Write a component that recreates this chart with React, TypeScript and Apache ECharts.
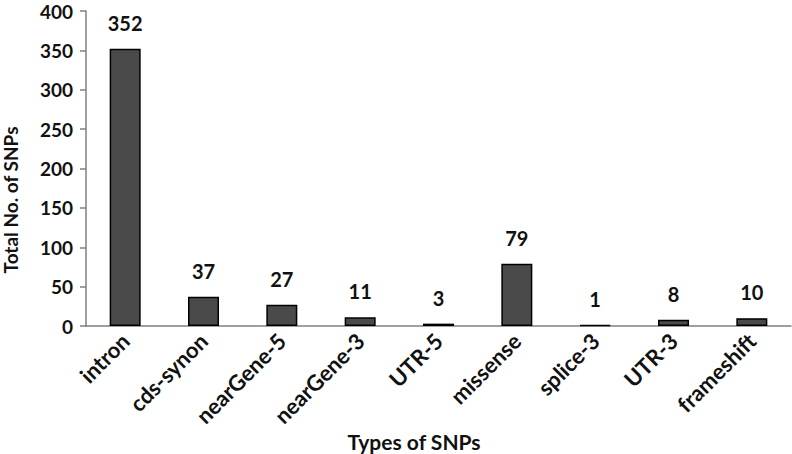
import React, { useEffect, useRef } from "react";
import * as echarts from "echarts";

const categories = ["intron", "cds-synon", "nearGene-5", "nearGene-3", "UTR-5", "missense", "splice-3", "UTR-3", "frameshift"];
const snpCounts = [352, 37, 27, 11, 3, 79, 1, 8, 10];
const yTicks = { min: 0, max: 400, interval: 50 };
const yTitle = "Total No. of SNPs";
const xTitle = "Types of SNPs";

const FONT = "Lato, 'Open Sans', sans-serif";

export default function App() {
  const ref = useRef<HTMLDivElement>(null);
  useEffect(() => {
    if (!ref.current) return;
    const chart = echarts.init(ref.current, null, { renderer: "svg" });
    chart.setOption({
      animation: false,
      backgroundColor: "#ffffff",
      grid: { left: 86, right: 1, top: 11, bottom: 128, containLabel: false },
      xAxis: {
        type: "category",
        data: categories,
        axisLine: { lineStyle: { color: "#808080", width: 1.5 } },
        axisTick: { show: false },
        axisLabel: {
          rotate: 45,
          margin: 11,
          color: "#111",
          fontFamily: FONT,
          fontWeight: "bold",
          fontSize: 22,
        },
      },
      yAxis: {
        type: "value",
        min: yTicks.min,
        max: yTicks.max,
        interval: yTicks.interval,
        splitLine: { show: false },
        axisLine: { show: true, lineStyle: { color: "#808080", width: 1.5 } },
        axisTick: { show: true, length: 6, lineStyle: { color: "#808080", width: 1.5 } },
        axisLabel: {
          margin: 13,
          color: "#111",
          fontFamily: FONT,
          fontWeight: "bold",
          fontSize: 19,
          lineHeight: 18,
        },
      },
      series: [
        {
          type: "bar",
          data: snpCounts,
          barWidth: 31,
          itemStyle: { color: "#4a4a4a", borderColor: "#000", borderWidth: 1.5 },
          label: {
            show: true,
            position: "top",
            distance: 16,
            color: "#111",
            fontFamily: FONT,
            fontWeight: "bold",
            fontSize: 20,
          },
        },
      ],
      graphic: [
        {
          type: "text",
          x: 10,
          y: 200,
          rotation: Math.PI / 2,
          style: {
            text: yTitle,
            fontFamily: FONT,
            fontWeight: "bold",
            fontSize: 19,
            fill: "#111",
            align: "center",
            verticalAlign: "middle",
          },
        },
        {
          type: "text",
          x: 414,
          y: 441,
          style: {
            text: xTitle,
            fontFamily: FONT,
            fontWeight: "bold",
            fontSize: 21,
            fill: "#111",
            align: "center",
            verticalAlign: "middle",
          },
        },
      ],
    });
    return () => chart.dispose();
  }, []);
  return <div ref={ref} style={{ width: 792, height: 454, position: "absolute", left: 0, top: 0 }} />;
}
